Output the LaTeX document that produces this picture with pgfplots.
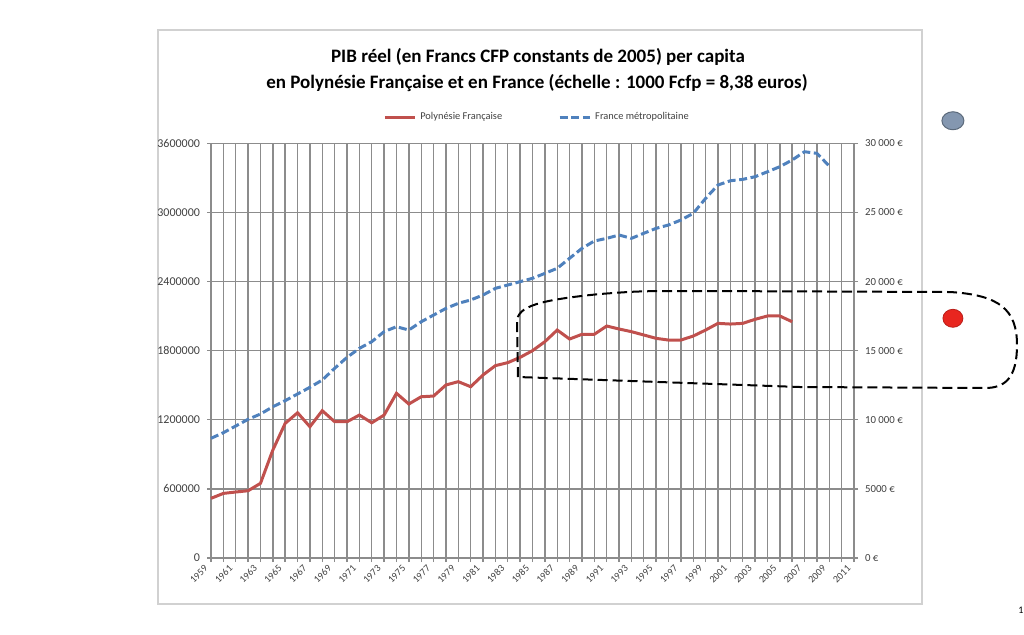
\documentclass[border=0pt]{standalone}
\usepackage{pgfplots}
\pgfplotsset{compat=1.18}
\usepackage{fontspec}
\setmainfont{Carlito}
\definecolor{gridc}{HTML}{8C8C8C}
\definecolor{polyred}{HTML}{C0504D}
\definecolor{frblue}{HTML}{4F81BD}
\definecolor{dotgray}{HTML}{8497B0}
\definecolor{dotred}{HTML}{E8261F}
\pgfplotstableread{
year val
1959 518000
1960 561000
1961 573000
1962 584000
1963 648000
1964 937000
1965 1169000
1966 1261000
1967 1140000
1968 1279000
1969 1183000
1970 1183000
1971 1241000
1972 1174000
1973 1241000
1974 1430000
1975 1337000
1976 1400000
1977 1406000
1978 1502000
1979 1531000
1980 1487000
1981 1589000
1982 1670000
1983 1696000
1984 1742000
1985 1800000
1986 1878000
1987 1979000
1988 1901000
1989 1942000
1990 1942000
1991 2014000
1992 1988000
1993 1965000
1994 1936000
1995 1907000
1996 1892000
1997 1892000
1998 1927000
1999 1979000
2000 2037000
2001 2031000
2002 2037000
2003 2072000
2004 2101000
2005 2101000
2006 2051000
}\polynesie
\pgfplotstableread{
year val
1959 1039000
1960 1088000
1961 1146000
1962 1204000
1963 1250000
1964 1313000
1965 1366000
1966 1424000
1967 1482000
1968 1545000
1969 1647000
1970 1742000
1971 1820000
1972 1878000
1973 1965000
1974 2008000
1975 1979000
1976 2051000
1977 2109000
1978 2167000
1979 2211000
1980 2240000
1981 2283000
1982 2341000
1983 2370000
1984 2399000
1985 2428000
1986 2471000
1987 2515000
1988 2602000
1989 2688000
1990 2752000
1991 2775000
1992 2804000
1993 2775000
1994 2819000
1995 2862000
1996 2891000
1997 2934000
1998 2992000
1999 3122000
2000 3238000
2001 3275000
2002 3287000
2003 3310000
2004 3353000
2005 3397000
2006 3455000
2007 3527000
2008 3513000
2009 3403000
}\france
\begin{document}
\begin{tikzpicture}
\begin{scope}[x=0.5pt,y=-0.5pt]
\path[use as bounding box] (0,0) rectangle (1024,634);
\draw[black!18, line width=0.8pt] (158,30) rectangle (922,604);
\node[font=\bfseries\fontsize{9.5}{11}\selectfont] at (538,57) {PIB réel (en Francs CFP constants de 2005) per capita};
\node[font=\bfseries\fontsize{9.5}{11}\selectfont] at (537,83) {en Polynésie Française et en France (échelle : 1000 Fcfp = 8,38 euros)};
\end{scope}
\begin{axis}[
  at={(105.5pt,-279pt)}, anchor=south west,
  scale only axis, width=321.5pt, height=207.35pt,
  xmin=1959, xmax=2011, ymin=0, ymax=3600000,
  clip=false,
  xtick={1959,1961,...,2011},
  minor xtick={1960,1962,...,2010},
  ytick={0,600000,1200000,1800000,2400000,3000000,3600000},
  yticklabels={0,600000,1200000,1800000,2400000,3000000,3600000},
  scaled y ticks=false,
  /pgf/number format/assume math mode=true,
  xticklabel style={/pgf/number format/1000 sep={}, rotate=45, anchor=east, font=\fontsize{5}{6}\selectfont, text=black!75},
  yticklabel style={font=\fontsize{6}{7}\selectfont, text=black!75},
  grid=both,
  major grid style={draw=gridc, line width=0.7pt},
  minor grid style={draw=gridc, line width=0.7pt},
  axis line style={draw=gridc, line width=0.7pt},
  tick style={draw=gridc, line width=0.7pt},
  tick align=outside, major tick length=2pt, minor tick length=2pt,
  xtick pos=lower, ytick pos=left,
  legend style={draw=none, fill=none, font=\fontsize{5.2}{6}\selectfont, text=black!75,
    at={(0.5086,1.0634)}, anchor=center, legend columns=2,
    /tikz/every even column/.append style={column sep=26pt}},
  legend image code/.code={\draw[#1] (0pt,0pt) -- (15pt,0pt);},
]
\addplot[polyred, line width=1.5pt] table[x=year,y=val]{\polynesie};
\addlegendentry{Polynésie Française}
\addplot[frblue, line width=1.5pt, dash pattern=on 4pt off 1.8pt] table[x=year,y=val]{\france};
\addlegendentry{France métropolitaine}
\addplot[only marks, mark=*, mark size=5pt, mark options={xscale=1.1, yscale=0.9, fill=dotgray, draw=dotgray!70!black, line width=0.5pt}, forget plot] coordinates {(2019,3796000)};
\addplot[only marks, mark=*, mark size=5pt, mark options={xscale=1.0, yscale=0.9, fill=dotred, draw=dotred!80!black, line width=0.4pt}, forget plot] coordinates {(2019,2081000)};
\end{axis}
\begin{axis}[
  at={(105.5pt,-279pt)}, anchor=south west,
  scale only axis, width=321.5pt, height=207.35pt,
  xmin=1959, xmax=2011, ymin=0, ymax=30000,
  axis x line=none, axis y line*=right,
  ytick={0,5000,10000,15000,20000,25000,30000},
  yticklabels={0 €,5000 €,10 000 €,15 000 €,20 000 €,25 000 €,30 000 €},
  scaled y ticks=false,
  /pgf/number format/assume math mode=true,
  yticklabel style={font=\fontsize{5.4}{6}\selectfont, text=black!75},
  axis line style={draw=gridc, line width=0.7pt},
  tick style={draw=gridc, line width=0.7pt},
  tick align=outside, major tick length=2pt,
]
\end{axis}
\begin{scope}[x=0.5pt,y=-0.5pt]
\draw[black, line width=1pt, dash pattern=on 5pt off 2.5pt]
  (518,377) -- (517,322) .. controls (517,306) and (540,300) .. (600,294)
  .. controls (640,291) .. (700,291) -- (950,292)
  .. controls (1000,295) and (1017,310) .. (1017,345)
  .. controls (1017,378) and (1005,388) .. (985,388) -- (800,387) -- cycle;
\node[anchor=west, inner sep=0pt, font=\fontsize{5}{6}\selectfont] at (1018,610) {1};
\end{scope}
\end{tikzpicture}
\end{document}
